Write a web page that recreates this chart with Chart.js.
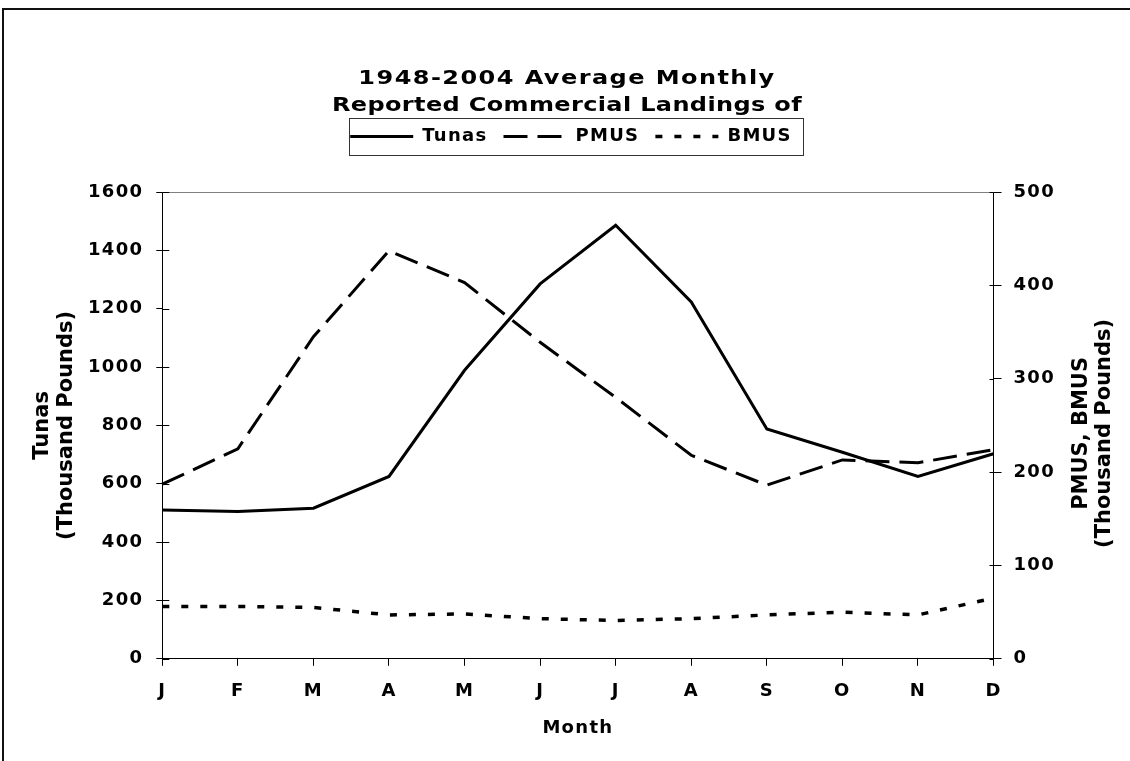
<!DOCTYPE html>
<html>
<head>
<meta charset="utf-8">
<script src="https://cdn.jsdelivr.net/npm/chart.js@4"></script>
<style>
html,body{margin:0;padding:0;background:#fff;overflow:hidden;}
#wrap{position:absolute;left:0;top:0;width:1130px;height:761px;overflow:hidden;}
#c{display:block;}
#frame{position:absolute;left:2px;top:8px;width:1300px;height:900px;border-left:2px solid #111;border-top:2px solid #111;pointer-events:none;}
</style>
</head>
<body>
<div id="wrap"><canvas id="c" width="1130" height="761"></canvas><div id="frame"></div></div>
<script>
// ---- data ----
const months = ['J','F','M','A','M','J','J','A','S','O','N','D'];
const tunas = [510, 505, 516, 625, 989, 1285, 1486, 1223, 788, 708, 625, 703];
const pmus  = [187, 225, 345, 437, 403, 339, 280, 218, 186, 213, 210, 224];
const bmus  = [56, 56, 55, 47, 48, 43, 41, 43, 47, 50, 47, 65];
const leftTicks  = [0, 200, 400, 600, 800, 1000, 1200, 1400, 1600];
const rightTicks = [0, 100, 200, 300, 400, 500];
const titleLines = ['1948-2004 Average Monthly', 'Reported Commercial Landings of'];
const leftTitle  = ['Tunas', '(Thousand Pounds)'];
const rightTitle = ['PMUS, BMUS', '(Thousand Pounds)'];
const xTitle = 'Month';

const FAM = 'DejaVu Sans';
Chart.defaults.font.family = FAM;
Chart.defaults.color = '#000';
const LS = '1.3px';

function makeSpacer(h) {
  return {
    position: 'top', weight: 500, fullSize: true, options: {},
    left: 0, top: 0, right: 0, bottom: 0, width: 0, height: 0,
    isHorizontal() { return true; },
    update(maxWidth) { this.width = maxWidth; this.height = h; },
    draw() {}
  };
}

const decor = {
  id: 'decor',
  beforeInit(chart) { Chart.layouts.addBox(chart, makeSpacer(36.5)); },
  beforeUpdate(chart) { chart.ctx.letterSpacing = LS; },
  beforeLayout(chart) { chart.ctx.letterSpacing = LS; },
  beforeDraw(chart) { chart.ctx.letterSpacing = LS; },
  afterDraw(chart) {
    const ctx = chart.ctx, a = chart.chartArea;
    ctx.save();
    // top border of plot area
    ctx.strokeStyle = '#808080'; ctx.lineWidth = 1;
    ctx.beginPath(); ctx.moveTo(a.left, Math.round(a.top) + 0.5); ctx.lineTo(a.right, Math.round(a.top) + 0.5); ctx.stroke();
    // inward halves of tick marks
    ctx.strokeStyle = '#000';
    const yL = chart.scales.y, yR = chart.scales.y1;
    ctx.beginPath();
    yL.ticks.forEach(t => { const p = Math.round(yL.getPixelForValue(t.value)) + 0.5; ctx.moveTo(a.left, p); ctx.lineTo(a.left + 7, p); });
    yR.ticks.forEach(t => { const p = Math.round(yR.getPixelForValue(t.value)) + 0.5; ctx.moveTo(a.right - 4, p); ctx.lineTo(a.right, p); });
    ctx.stroke();
    // legend frame
    const lg = chart.legend, hb = lg.legendHitBoxes;
    if (hb && hb.length) {
      const l = hb[0].left - 1, r = hb[hb.length - 1].left + hb[hb.length - 1].width + 11;
      const cy = hb[0].top + hb[0].height / 2;
      ctx.strokeStyle = '#333'; ctx.lineWidth = 1;
      ctx.strokeRect(Math.round(l) + 0.5, Math.round(cy - 18.5) + 0.5, Math.round(r - l), 37);
    }
    // chart title (horizontally widened like the original)
    ctx.fillStyle = '#000';
    ctx.font = 'bold 20px "' + FAM + '"';
    ctx.textAlign = 'center'; ctx.textBaseline = 'middle';
    const titleLS = ['1.2px', '0.3px'];
    titleLines.forEach((t, i) => {
      ctx.save(); ctx.letterSpacing = titleLS[i];
      ctx.translate(567, 79 + i * 27); ctx.scale(1.2, 1); ctx.fillText(t, 0, 0); ctx.restore();
    });
    // rotated axis titles
    ctx.font = 'bold 21px "' + FAM + '"';
    ctx.letterSpacing = '0px';
    ctx.textBaseline = 'alphabetic';
    const cyL = (a.top + a.bottom) / 2;
    [[48, leftTitle[0]], [72, leftTitle[1]]].forEach(([x, t]) => {
      ctx.save(); ctx.translate(x, cyL); ctx.rotate(-Math.PI / 2); ctx.fillText(t, 0, 0); ctx.restore();
    });
    const cyR = cyL + 8;
    [[1087, rightTitle[0]], [1110, rightTitle[1]]].forEach(([x, t]) => {
      ctx.save(); ctx.translate(x, cyR); ctx.rotate(-Math.PI / 2); ctx.fillText(t, 0, 0); ctx.restore();
    });
    ctx.restore();
  }
};

const tickFont = { family: FAM, size: 18, weight: 'bold' };

function legendLabels(chart) {
  const items = Chart.defaults.plugins.legend.labels.generateLabels(chart);
  items.forEach(it => {
    const ds = chart.data.datasets[it.datasetIndex];
    it.lineDash = ds.borderDash || [];
    it.lineWidth = ds.borderWidth;
    it.pointStyle = 'line';
    it.strokeStyle = ds.borderColor;
  });
  return items;
}

new Chart(document.getElementById('c'), {
  type: 'line',
  data: {
    labels: months,
    datasets: [
      { label: 'Tunas', data: tunas, yAxisID: 'y', borderColor: '#000', backgroundColor: '#000', borderWidth: 3, pointRadius: 0, tension: 0, borderCapStyle: 'butt' },
      { label: 'PMUS', data: pmus, yAxisID: 'y1', borderColor: '#000', backgroundColor: '#000', borderWidth: 3, borderDash: [24, 10], pointRadius: 0, tension: 0, borderCapStyle: 'butt' },
      { label: 'BMUS', data: bmus, yAxisID: 'y1', borderColor: '#000', backgroundColor: '#000', borderWidth: 3.5, borderDash: [7, 12], pointRadius: 0, tension: 0, borderCapStyle: 'butt' }
    ]
  },
  options: {
    responsive: false,
    animation: false,
    devicePixelRatio: 1,
    layout: { padding: { top: 111.5, left: 75, right: 63, bottom: 22 } },
    plugins: {
      title: { display: false },
      tooltip: { enabled: false },
      legend: {
        display: true, position: 'top',
        labels: { usePointStyle: true, pointStyle: 'line', pointStyleWidth: 63, boxHeight: 18, padding: 16, color: '#000', font: tickFont, generateLabels: legendLabels }
      }
    },
    scales: {
      x: {
        type: 'category', offset: false,
        grid: { display: true, drawOnChartArea: false, drawTicks: true, tickLength: 7, color: '#000', lineWidth: 1 },
        border: { display: true, color: '#000', width: 1 },
        ticks: { font: tickFont, color: '#000', padding: 15, maxRotation: 0, autoSkip: false },
        title: { display: true, text: xTitle, color: '#000', font: tickFont, padding: { top: 0, bottom: 0 } }
      },
      y: {
        position: 'left', min: 0, max: 1600,
        afterBuildTicks: s => { s.ticks = leftTicks.map(v => ({ value: v })); },
        grid: { display: true, drawOnChartArea: false, drawTicks: true, tickLength: 6, color: '#000', lineWidth: 1 },
        border: { display: true, color: '#000', width: 1 },
        ticks: { font: tickFont, color: '#000', padding: 13, callback: v => String(v) }
      },
      y1: {
        position: 'right', min: 0, max: 500,
        afterBuildTicks: s => { s.ticks = rightTicks.map(v => ({ value: v })); },
        grid: { display: true, drawOnChartArea: false, drawTicks: true, tickLength: 8, color: '#000', lineWidth: 1 },
        border: { display: true, color: '#000', width: 1 },
        ticks: { font: tickFont, color: '#000', padding: 12, callback: v => String(v) }
      }
    }
  },
  plugins: [decor]
});
</script>
</body>
</html>
